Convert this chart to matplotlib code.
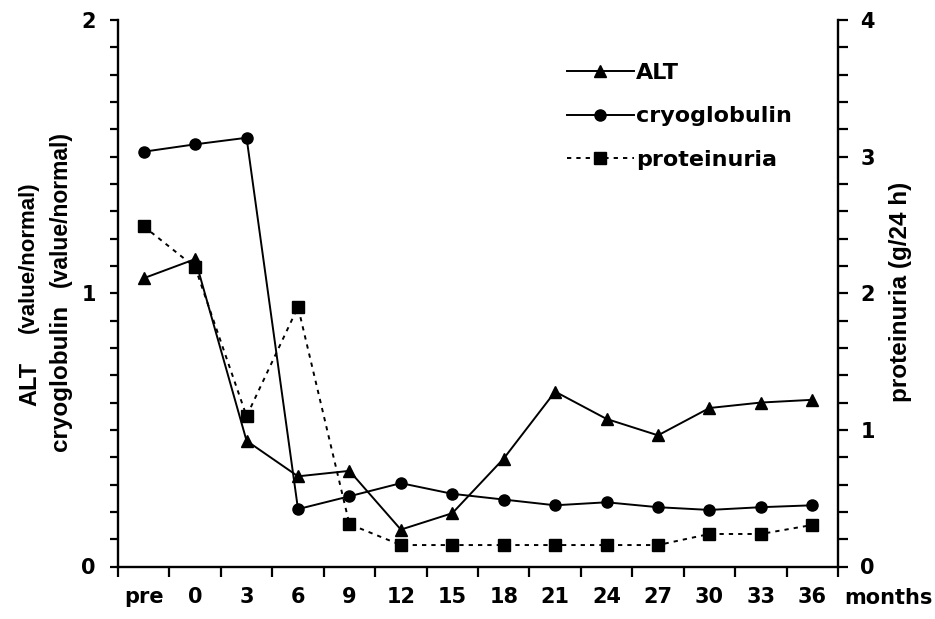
import matplotlib
matplotlib.use("Agg")
import matplotlib.pyplot as plt
from matplotlib.ticker import MultipleLocator, FixedLocator, NullFormatter
import numpy as np

categories = ['pre', '0', '3', '6', '9', '12', '15', '18', '21', '24', '27', '30', '33', '36']
alt = [1.055, 1.125, 0.46, 0.33, 0.35, 0.135, 0.195, 0.395, 0.64, 0.54, 0.48, 0.58, 0.60, 0.61]
cryoglobulin = [1.518, 1.545, 1.569, 0.21, 0.257, 0.305, 0.266, 0.245, 0.224, 0.235, 0.217, 0.207, 0.217, 0.224]
proteinuria = [2.49, 2.19, 1.10, 1.90, 0.31, 0.157, 0.157, 0.157, 0.157, 0.157, 0.157, 0.238, 0.238, 0.304]

W, H = 935, 619
fig = plt.figure(figsize=(W / 100, H / 100), dpi=100)

def fx(x):
    return x / W

def fy(y):
    return 1 - y / H

left, right, top, bottom = 118, 838, 20, 566.5
ax = fig.add_axes([fx(left), fy(bottom), fx(right) - fx(left), fy(top) - fy(bottom)])
ax2 = ax.twinx()

x = np.arange(len(categories))
lw = 1.4
ms = 8
l1, = ax.plot(x, alt, color='black', lw=lw, marker='^', markersize=ms, label='ALT')
l2, = ax.plot(x, cryoglobulin, color='black', lw=lw, marker='o', markersize=ms, label='cryoglobulin')
l3, = ax2.plot(x, proteinuria, color='black', lw=lw, linestyle=(0, (2.2, 2.6)), marker='s',
               markersize=ms, label='proteinuria')

ax.set_xlim(-0.5, len(categories) - 0.5)
ax.set_ylim(0, 2)
ax2.set_ylim(0, 4)

tick_font = dict(family='DejaVu Sans', weight='bold', size=15)
# x ticks: boundaries get tick marks, centers get labels
ax.xaxis.set_major_locator(FixedLocator(np.arange(-0.5, len(categories), 1.0)))
ax.xaxis.set_major_formatter(NullFormatter())
ax.set_xticks(x, minor=True)
ax.set_xticklabels(categories, minor=True, fontdict=tick_font)
ax.tick_params(axis='x', which='major', direction='out', length=7, width=1.6)
ax.tick_params(axis='x', which='minor', length=0, pad=15)

ax.set_yticks([0, 1, 2])
ax.yaxis.set_minor_locator(MultipleLocator(0.1))
ax.set_yticklabels(['0', '1', '2'], fontdict=tick_font)
ax.tick_params(axis='y', which='both', direction='out', length=6, width=1.6, pad=10)

ax2.set_yticks([0, 1, 2, 3, 4])
ax2.yaxis.set_minor_locator(MultipleLocator(0.2))
ax2.set_yticklabels(['0', '1', '2', '3', '4'], fontdict=tick_font)
ax2.tick_params(axis='y', which='both', direction='out', length=7, width=1.6, pad=9)

for a in (ax, ax2):
    a.spines['top'].set_visible(False)
    for s in ('left', 'right', 'bottom'):
        a.spines[s].set_linewidth(1.7)
ax.spines['right'].set_visible(False)
ax2.spines['left'].set_visible(False)
ax2.spines['bottom'].set_visible(False)

# months label
fig.text(fx(888), fy(598), 'months', ha='center', va='center',
         family='DejaVu Sans', weight='bold', size=15)

# left y label (two lines, mixed sizes)
lab = dict(family='Liberation Sans', weight='bold', rotation=90, rotation_mode='anchor')
fig.text(fx(36), fy(383.5), 'ALT', ha='center', va='baseline', size=17, **lab)
fig.text(fx(34), fy(257.5), '(value/normal)', ha='center', va='baseline', size=16, **lab)
fig.text(fx(67), fy(378), 'cryoglobulin', ha='center', va='baseline', size=17.5, **lab)
fig.text(fx(67), fy(209), '(value/normal)', ha='center', va='baseline', size=16.5, **lab)

# right y label
fig.text(fx(901), fy(292), 'proteinuria (g/24 h)', ha='center', va='center',
         family='Liberation Sans', weight='bold', rotation=90, size=17.5)

leg = ax2.legend(handles=[l1, l2, l3], loc='upper left',
                 bbox_to_anchor=(fx(567), fy(63)), bbox_transform=fig.transFigure,
                 frameon=False, borderpad=0, borderaxespad=0, handlelength=3.0,
                 handletextpad=0.1, labelspacing=1.05, numpoints=1,
                 prop=dict(family='DejaVu Sans', weight='bold', size=16))

fig.savefig('out.png', dpi=100)
